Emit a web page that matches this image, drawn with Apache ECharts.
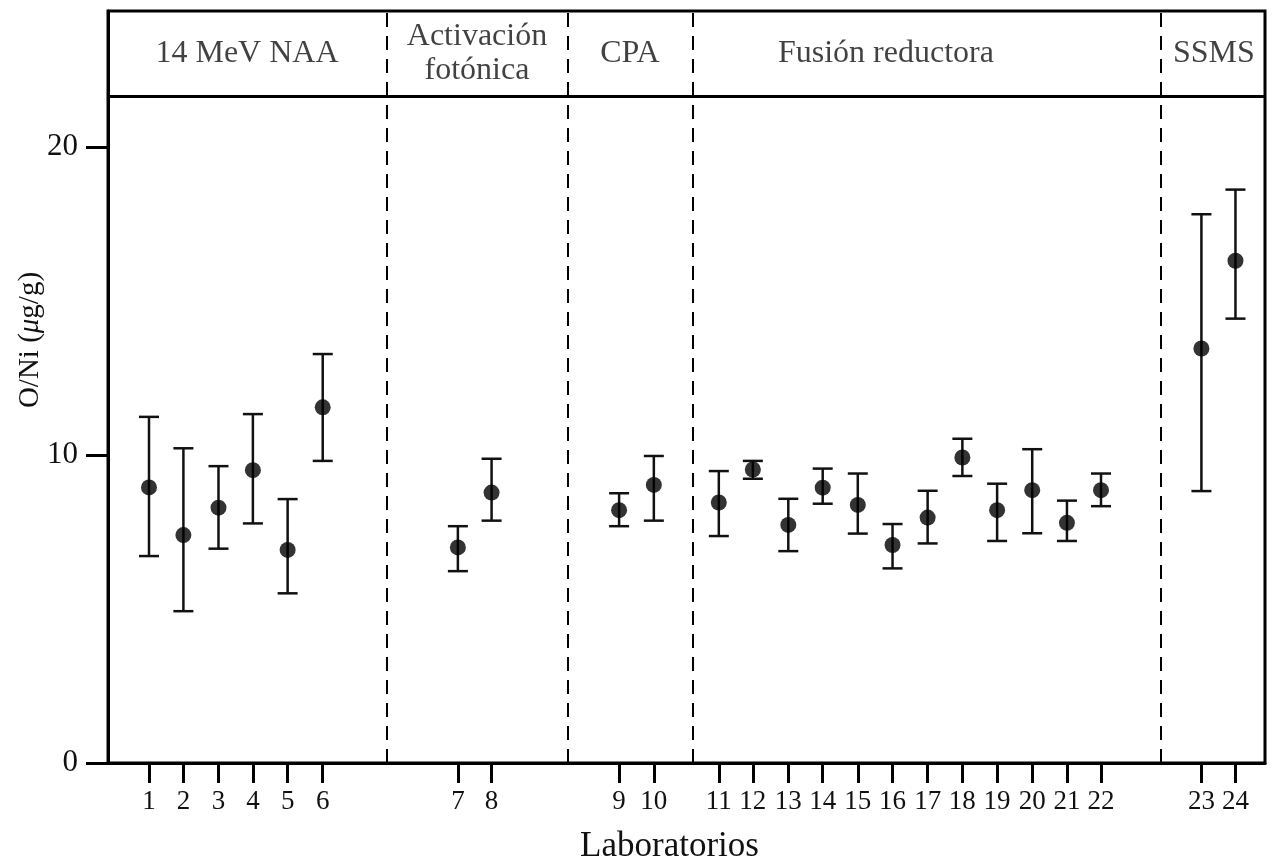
<!DOCTYPE html>
<html>
<head>
    <meta charset="utf-8">
    <title>O/Ni por laboratorio</title>
    <script src="https://cdn.jsdelivr.net/npm/echarts@6.0.0/dist/echarts.min.js"></script>
    <style>
        body, html { margin: 0; padding: 0; width: 100%; height: 100%; overflow: hidden; background: #fff; }
        #main { width: 1272px; height: 865px; }
    </style>
</head>
<body>
    <div id="main"></div>
    <script type="text/javascript">
        // lab numbers and where they sit along the x axis (1 unit = one lab step)
        var labs = ['1','2','3','4','5','6','7','8','9','10','11','12','13','14','15','16','17','18','19','20','21','22','23','24'];
        var labPos = [1, 1.99, 3, 3.99, 4.99, 6, 9.89, 10.86, 14.53, 15.53, 17.4, 18.38, 19.4, 20.39, 21.4, 22.4, 23.41, 24.41, 25.41, 26.42, 27.42, 28.4, 31.29, 32.27];

        // O/Ni (ug/g): mean, lower and upper end of the error bar
        var means = [8.95, 7.40, 8.29, 9.51, 6.92, 11.55, 7.00, 8.78, 8.21, 9.03, 8.46, 9.53, 7.73, 8.94, 8.38, 7.08, 7.97, 9.92, 8.21, 8.86, 7.80, 8.86, 13.46, 16.31];
        var lows  = [6.72, 4.93, 6.96, 7.78, 5.51, 9.81, 6.23, 7.87, 7.69, 7.87, 7.37, 9.23, 6.88, 8.42, 7.45, 6.32, 7.13, 9.32, 7.21, 7.46, 7.21, 8.34, 8.83, 14.43];
        var highs = [11.24, 10.22, 9.64, 11.33, 8.57, 13.28, 7.69, 9.88, 8.76, 9.97, 9.48, 9.81, 8.58, 9.56, 9.40, 7.76, 8.84, 10.53, 9.07, 10.19, 8.52, 9.40, 17.82, 18.62];

        // method groups: separators and header titles
        var groupBreaks = [7.85, 13.05, 16.65, 30.11];
        var groupNames = ['14 MeV NAA', 'Activación\nfotónica', 'CPA', 'Fusión reductora', 'SSMS'];
        var groupCenters = [3.82, 10.44, 14.84, 22.21, 31.65];

        var yTicks = [0, 10, 20];
        var headerLine = 21.66;

        var font = 'Liberation Serif';
        var myChart = echarts.init(document.getElementById('main'));

        var pointData = labPos.map(function (p, i) { return [p, means[i]]; });
        var barData = labPos.map(function (p, i) { return [p, lows[i], highs[i]]; });
        var headerData = groupCenters.map(function (c, i) { return [c, 23.05, groupNames[i]]; });

        var option = {
            animation: false,
            grid: {
                left: 108, right: 7, top: 11, bottom: 102,
                outerBoundsMode: 'none',
                containLabel: false,
                show: true, borderColor: '#000', borderWidth: 3
            },
            xAxis: {
                type: 'value',
                min: -0.18, max: 33.12,
                splitLine: { show: false },
                axisLine: { onZero: false, lineStyle: { color: '#000', width: 3 } },
                axisTick: { show: true, customValues: labPos, length: 20, lineStyle: { color: '#000', width: 3 } },
                axisLabel: {
                    customValues: labPos,
                    margin: 25,
                    color: '#111', fontFamily: font, fontSize: 27,
                    formatter: function (v) {
                        var i = labPos.indexOf(v);
                        return i >= 0 ? labs[i] : '';
                    }
                },
                name: 'Laboratorios',
                nameLocation: 'middle',
                nameGap: 66,
                nameTextStyle: { color: '#111', fontFamily: font, fontSize: 35, padding: [0, 34, 0, 0] }
            },
            yAxis: {
                type: 'value',
                min: 0, max: 24.42,
                splitLine: { show: false },
                axisLine: { onZero: false, lineStyle: { color: '#000', width: 3 } },
                axisTick: { show: true, customValues: yTicks, length: 22, lineStyle: { color: '#000', width: 3 } },
                axisLabel: { customValues: yTicks, margin: 30, color: '#111', fontFamily: font, fontSize: 31 }
            },
            graphic: [{
                type: 'text',
                x: 30, y: 340,
                rotation: Math.PI / 2,
                style: {
                    text: 'O/Ni ({i|μ}g/g)',
                    rich: { i: { fontStyle: 'italic', fontFamily: font, fontSize: 29, fill: '#111' } },
                    fontFamily: font, fontSize: 29, fill: '#111',
                    align: 'center', verticalAlign: 'middle'
                }
            }],
            series: [
                {
                    type: 'custom',
                    silent: true,
                    data: barData,
                    renderItem: function (params, api) {
                        var top = api.coord([api.value(0), api.value(2)]);
                        var bot = api.coord([api.value(0), api.value(1)]);
                        var hw = 10;
                        var st = { stroke: '#111', lineWidth: 2.5 };
                        return {
                            type: 'group',
                            children: [
                                { type: 'line', shape: { x1: top[0], y1: top[1], x2: bot[0], y2: bot[1] }, style: st },
                                { type: 'line', shape: { x1: top[0] - hw, y1: top[1], x2: top[0] + hw, y2: top[1] }, style: st },
                                { type: 'line', shape: { x1: bot[0] - hw, y1: bot[1], x2: bot[0] + hw, y2: bot[1] }, style: st }
                            ]
                        };
                    },
                    markLine: {
                        silent: true,
                        symbol: 'none',
                        label: { show: false },
                        data: groupBreaks.map(function (b) {
                            return { xAxis: b, lineStyle: { color: '#000', width: 2, type: [14, 9] } };
                        }).concat([{ yAxis: headerLine, lineStyle: { color: '#000', width: 3, type: 'solid' } }])
                    }
                },
                {
                    type: 'scatter',
                    silent: true,
                    data: pointData,
                    symbol: 'circle',
                    symbolSize: 16,
                    itemStyle: { color: '#000' }
                },
                {
                    type: 'scatter',
                    silent: true,
                    data: headerData,
                    symbolSize: 1,
                    itemStyle: { color: 'rgba(0,0,0,0)' },
                    label: {
                        show: true,
                        position: 'inside',
                        formatter: function (p) { return p.data[2]; },
                        color: '#111', fontFamily: font, fontSize: 32, lineHeight: 34, align: 'center'
                    }
                }
            ]
        };

        myChart.setOption(option);
    </script>
</body>
</html>
